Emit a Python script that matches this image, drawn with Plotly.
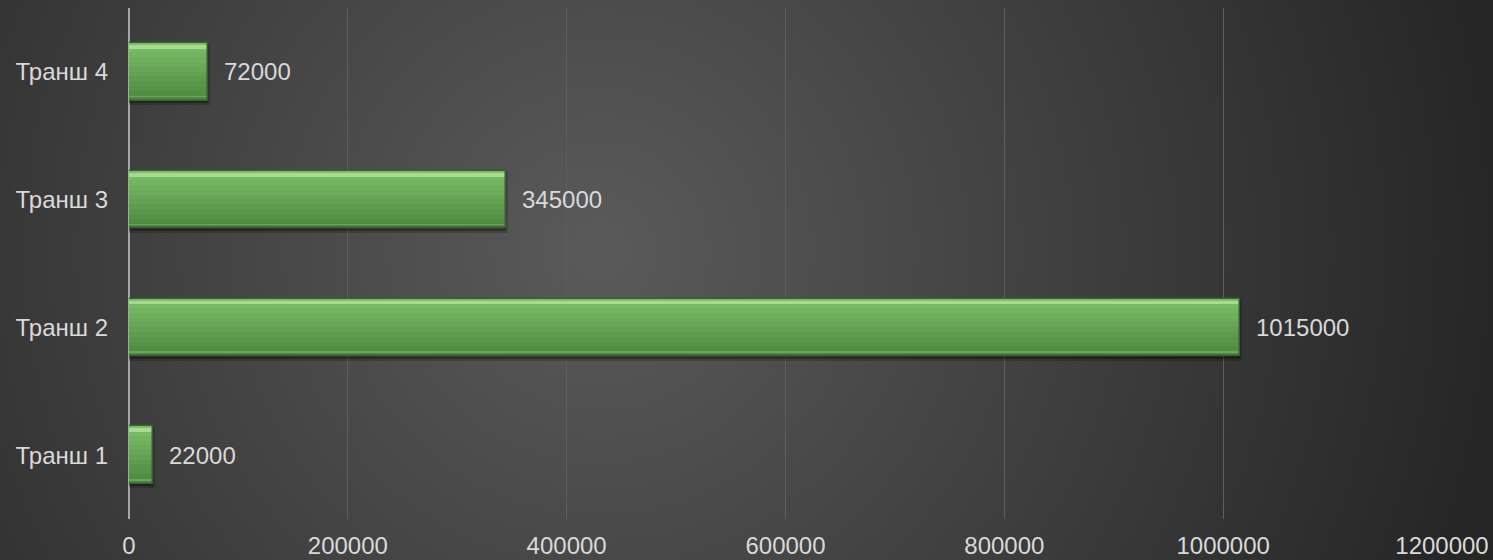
import base64
import plotly.graph_objects as go

# ---- data ----
categories = ["Транш 1", "Транш 2", "Транш 3", "Транш 4"]
values = [22000, 1015000, 345000, 72000]
x_ticks = [0, 200000, 400000, 600000, 800000, 1000000, 1200000]
x_tick_labels = ["0", "200000", "400000", "600000", "800000", "1000000", "1200000"]

# ---- layout geometry ----
W, H = 1493, 560
L, R, T, B = 129, 51, 8, 41
PW, PH = W - L - R, H - T - B

FONT = "Liberation Sans, Arial, sans-serif"
TXT = "#d9d9d9"
FS = 24

svg = (
    f'<svg xmlns="http://www.w3.org/2000/svg" width="{W}" height="{H}">'
    '<defs><radialGradient id="g" cx="600" cy="250" r="900" gradientUnits="userSpaceOnUse">'
    '<stop offset="0" stop-color="#5a5a5a"/><stop offset="1" stop-color="#262626"/>'
    '</radialGradient></defs>'
    f'<rect width="{W}" height="{H}" fill="url(#g)"/></svg>'
)
bg_uri = "data:image/svg+xml;base64," + base64.b64encode(svg.encode()).decode()

BW = 0.45
fig = go.Figure()

# shadow
fig.add_trace(go.Bar(
    x=values, y=categories, orientation="h", width=BW, offset=-BW / 2 - 0.02,
    marker=dict(color="rgba(0,0,0,0.30)", line=dict(color="rgba(0,0,0,0.18)", width=4)),
    hoverinfo="skip", showlegend=False,
))

# gradient bands (top light -> bottom dark)
def lerp(c1, c2, t):
    return "#%02x%02x%02x" % tuple(int(round(a + (b - a) * t)) for a, b in zip(c1, c2))

top_c = (0x7c, 0xbe, 0x68)
bot_c = (0x4c, 0x89, 0x3e)
N = 12
bw = BW / N
for i in range(N):
    off = BW / 2 - (i + 1) * bw
    fig.add_trace(go.Bar(
        x=values, y=categories, orientation="h", width=bw * 1.05, offset=off,
        marker=dict(color=lerp(top_c, bot_c, i / (N - 1)), line=dict(width=0)),
        hoverinfo="skip", showlegend=False,
    ))

# top highlight
fig.add_trace(go.Bar(
    x=values, y=categories, orientation="h", width=0.03, offset=BW / 2 - 0.045,
    marker=dict(color="rgba(175,225,155,0.85)", line=dict(width=0)),
    hoverinfo="skip", showlegend=False,
))
# bottom light line
fig.add_trace(go.Bar(
    x=values, y=categories, orientation="h", width=0.012, offset=-BW / 2 + 0.025,
    marker=dict(color="rgba(110,170,95,0.9)", line=dict(width=0)),
    hoverinfo="skip", showlegend=False,
))

# outline
fig.add_trace(go.Bar(
    x=values, y=categories, orientation="h", width=BW, offset=-BW / 2,
    marker=dict(color="rgba(0,0,0,0)", line=dict(color="#35622c", width=1.5)),
    showlegend=False,
))

for v, c in zip(values, categories):
    fig.add_annotation(
        x=v, y=c, text=str(v), showarrow=False, xanchor="left", yanchor="middle",
        xshift=14, font=dict(family=FONT, size=FS, color=TXT),
    )

fig.update_layout(
    width=W, height=H,
    margin=dict(l=L, r=R, t=T, b=B, pad=0, autoexpand=False),
    paper_bgcolor="#3a3a3a",
    plot_bgcolor="rgba(0,0,0,0)",
    barmode="overlay",
    bargap=0,
    font=dict(family=FONT, size=FS, color=TXT),
    images=[dict(
        source=bg_uri, xref="paper", yref="paper",
        x=-L / PW, y=1 + T / PH, sizex=W / PW, sizey=H / PH,
        xanchor="left", yanchor="top", sizing="stretch", layer="below",
    )],
    xaxis=dict(
        range=[0, 1200000], tickvals=x_ticks, ticktext=x_tick_labels,
        showgrid=True, gridcolor="#5e5e5e", gridwidth=1,
        zeroline=True, zerolinecolor="#a6a6a6", zerolinewidth=2,
        showline=False, ticks="", ticklabelstandoff=10, automargin=False,
        tickfont=dict(family=FONT, size=FS, color=TXT),
    ),
    yaxis=dict(
        categoryorder="array", categoryarray=categories,
        range=[-0.5, 3.5], showgrid=False, zeroline=False, showline=False,
        ticks="", ticklabelstandoff=20, automargin=False,
        tickfont=dict(family=FONT, size=FS, color=TXT),
    ),
)

fig.write_html(
    "out.html",
    config={"displayModeBar": False},
    post_script="document.body.style.margin='0';document.body.style.background='#2a2a2a';",
)
